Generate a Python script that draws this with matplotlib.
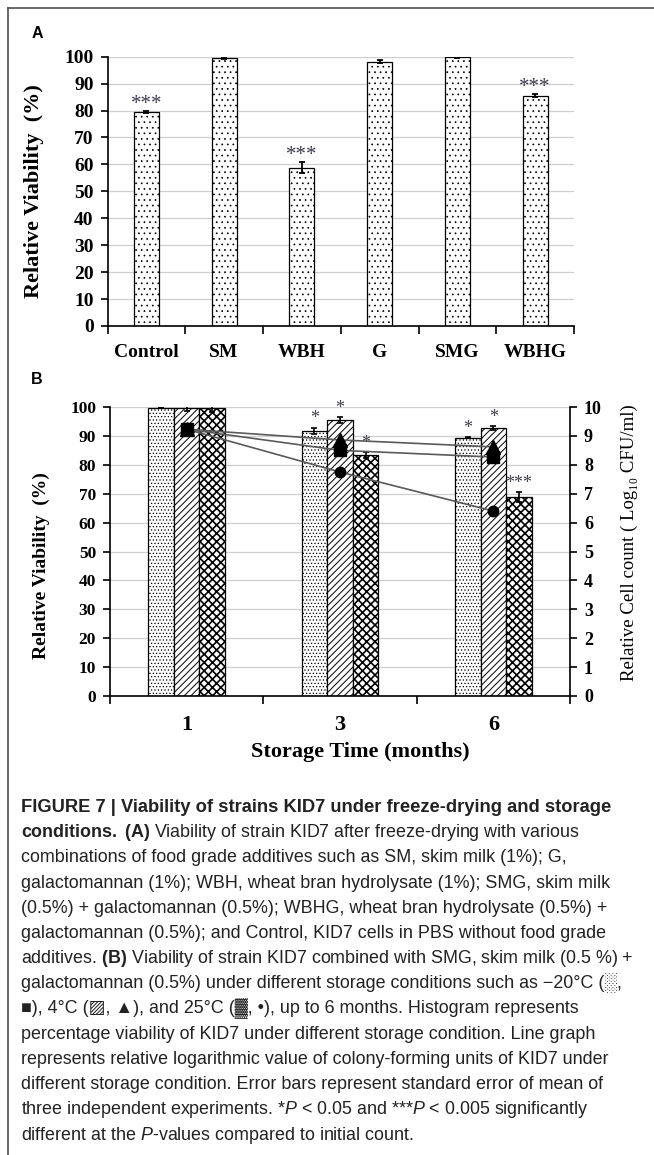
import numpy as np
import matplotlib
matplotlib.use('Agg')
import matplotlib.pyplot as plt
from matplotlib.lines import Line2D

CAP_FONT = 'Liberation Sans'
plt.rcParams['font.family'] = ['Liberation Serif', 'DejaVu Serif']
plt.rcParams['mathtext.fontset'] = 'custom'
plt.rcParams['mathtext.rm'] = CAP_FONT
plt.rcParams['mathtext.bf'] = CAP_FONT + ':bold'
plt.rcParams['mathtext.it'] = CAP_FONT + ':italic'

# panel A: viability after freeze-drying
cats_a = ['Control', 'SM', 'WBH', 'G', 'SMG', 'WBHG']
viab_a = [79.5, 99.5, 58.8, 98.2, 99.8, 85.5]
err_a = [0.3, 0.3, 2.0, 0.4, 0.2, 0.5]
sig_a = ['***', '', '***', '', '', '***']

# panel B: storage at -20, 4 and 25 C
months = ['1', '3', '6']
viab_b = {'m20': [99.8, 91.7, 89.4], 'c4': [99.8, 95.5, 92.7], 'c25': [99.8, 83.4, 69.0]}
err_b = {'m20': [0.1, 1.2, 0.2], 'c4': [1.2, 1.0, 0.8], 'c25': [1.5, 1.0, 1.7]}
sig_b = {'m20': ['', '*', '*'], 'c4': ['', '*', '*'], 'c25': ['', '*', '***']}
logcfu_b = {'m20': [9.23, 8.50, 8.27], 'c4': [9.23, 8.86, 8.62], 'c25': [9.23, 7.75, 6.40]}

W, H = 654, 1155
fig = plt.figure(figsize=(W / 100, H / 100), dpi=100)

def px_axes(l, t, r, b):
    return fig.add_axes([l / W, 1 - b / H, (r - l) / W, (b - t) / H])

STAR = '#3c3c4c'
GRID = '#cfcfcf'

def hatched_bars(ax, x, y, w, hatch, hlw):
    with plt.rc_context({'hatch.linewidth': hlw}):
        bars = ax.bar(x, y, width=w, color='white', edgecolor='black',
                      linewidth=0.9, hatch=hatch, zorder=2)
    for p in bars:
        if hasattr(p, 'set_hatch_linewidth'):
            p.set_hatch_linewidth(hlw)
    return bars

def style_axes(ax, ylabel, lab_size, tick_size, ylab_x, ylab_y):
    ax.spines['top'].set_visible(False)
    ax.spines['right'].set_visible(False)
    for s in ['left', 'bottom']:
        ax.spines[s].set_linewidth(1.2)
    ax.set_ylim(0, 100)
    ax.set_yticks(np.arange(0, 101, 10))
    ax.yaxis.grid(True, color=GRID, lw=0.9)
    ax.set_axisbelow(True)
    ax.tick_params(axis='y', direction='out', length=5, width=1.2, pad=5,
                   labelsize=tick_size)
    for t in ax.get_yticklabels():
        t.set_fontweight('bold')
    ax.set_ylabel(ylabel, fontsize=lab_size, fontweight='bold')
    ax.yaxis.set_label_coords(ylab_x, ylab_y)

# ---------------- panel A ----------------
axA = px_axes(107.5, 56.7, 574, 326)
xa = np.arange(len(cats_a))
hatched_bars(axA, xa, viab_a, 0.32, '...', 0.5)
axA.errorbar(xa, viab_a, yerr=err_a, fmt='none', ecolor='black',
             elinewidth=1.3, capsize=2.5, capthick=1.3, zorder=3)
for x, v, e, s in zip(xa, viab_a, err_a, sig_a):
    if s:
        axA.annotate(s, (x, v + e), xytext=(0, 1.5), textcoords='offset points',
                     ha='center', va='baseline', fontsize=15, color=STAR)
axA.set_xlim(-0.5, len(cats_a) - 0.5)
axA.set_xticks(xa)
axA.set_xticklabels(cats_a, fontsize=14, fontweight='bold')
axA.set_xticks(np.arange(-0.5, len(cats_a)), minor=True)
axA.tick_params(axis='x', which='major', length=0, pad=13)
axA.tick_params(axis='x', which='minor', direction='out', length=6, width=1.2)
style_axes(axA, 'Relative Viability  (%)', 16, 14, -0.136, 0.5)
fig.text(37 / W, 1 - 33 / H, 'A', family='Liberation Sans', fontweight='bold',
         fontsize=11.5, ha='center', va='center')

# ---------------- panel B ----------------
axB = px_axes(110, 407, 570, 696)
xb = np.arange(len(months))
bw = 1 / 6
hatches = {'m20': ('.....', 0.5), 'c4': ('/////', 0.7), 'c25': ('xxxx', 1.2)}
offs = {'m20': -bw, 'c4': 0.0, 'c25': bw}
for key in ['m20', 'c4', 'c25']:
    h, hlw = hatches[key]
    hatched_bars(axB, xb + offs[key], viab_b[key], bw, h, hlw)
    axB.errorbar(xb + offs[key], viab_b[key], yerr=err_b[key], fmt='none',
                 ecolor='black', elinewidth=1.2, capsize=2.5, capthick=1.2, zorder=3)
    for x, v, e, s in zip(xb + offs[key], viab_b[key], err_b[key], sig_b[key]):
        if s:
            axB.annotate(s, (x, v + e), xytext=(0, 3), textcoords='offset points',
                         ha='center', va='baseline', fontsize=13, color=STAR)
axB.set_xlim(-0.5, len(months) - 0.5)
axB.set_xticks(xb)
axB.set_xticklabels(months, fontsize=16, fontweight='bold')
axB.set_xticks(np.arange(-0.5, len(months)), minor=True)
axB.tick_params(axis='x', which='major', length=0, pad=14)
axB.tick_params(axis='x', which='minor', direction='out', length=6, width=1.2)
style_axes(axB, 'Relative Viability  (%)', 14, 12.5, -0.13, 0.45)
axB.set_xlabel('Storage Time (months)', fontsize=16, fontweight='bold')
axB.xaxis.set_label_coords(0.545, -0.16)

ax2 = axB.twinx()
ax2.set_ylim(0, 10)
ax2.set_yticks(np.arange(0, 11, 1))
for s in ['top', 'left', 'bottom']:
    ax2.spines[s].set_visible(False)
ax2.spines['right'].set_linewidth(1.2)
ax2.tick_params(axis='y', direction='out', length=5, width=1.2, pad=5, labelsize=13)
for t in ax2.get_yticklabels():
    t.set_fontweight('bold')
ax2.set_ylabel('Relative Cell count ( Log\u2081\u2080 CFU/ml)', fontsize=13.5,
               rotation=90)
ax2.yaxis.set_label_coords(1.11, 0.53)
markers = {'c25': ('o', 7.5), 'c4': ('^', 10.5), 'm20': ('s', 8.5)}
for key in ['c25', 'c4', 'm20']:
    m, ms = markers[key]
    ax2.plot(xb, logcfu_b[key], color='#5a5a5a', lw=1.2, marker=m, ms=ms,
             mfc='black', mec='black', zorder=4)
fig.text(37 / W, 1 - 380 / H, 'B', family='Liberation Sans', fontweight='bold',
         fontsize=11.5, ha='center', va='center')

# ---------------- frame ----------------
fig.add_artist(Line2D([7.5 / W, 7.5 / W], [0, 1 - 8 / H], color='#505050', lw=1.2))
fig.add_artist(Line2D([7.5 / W, 1], [1 - 8 / H, 1 - 8 / H], color='#505050', lw=1.2))

# ---------------- caption ----------------
cap_lines = [
    'FIGURE 7 | Viability of strains KID7 under freeze-drying and storage',
    r'$\mathbf{conditions.}$ $\mathbf{(A)}$ Viability of strain KID7 after freeze-drying with various',
    'combinations of food grade additives such as SM, skim milk (1%); G,',
    'galactomannan (1%); WBH, wheat bran hydrolysate (1%); SMG, skim milk',
    '(0.5%) + galactomannan (0.5%); WBHG, wheat bran hydrolysate (0.5%) +',
    'galactomannan (0.5%); and Control, KID7 cells in PBS without food grade',
    r'additives. $\mathbf{(B)}$ Viability of strain KID7 combined with SMG, skim milk (0.5 %) +',
    'galactomannan (0.5%) under different storage conditions such as \u221220\u00b0C (\u2591,',
    '\u25a0), 4\u00b0C (\u25a8, \u25b2), and 25\u00b0C (\u2593, \u2022), up to 6 months. Histogram represents',
    'percentage viability of KID7 under different storage condition. Line graph',
    'represents relative logarithmic value of colony-forming units of KID7 under',
    'different storage condition. Error bars represent standard error of mean of',
    r'three independent experiments. *$\mathit{P}$ < 0.05 and ***$\mathit{P}$ < 0.005 significantly',
    r'different at the $\mathit{P}$-values compared to initial count.',
]
for i, line in enumerate(cap_lines):
    fig.text(21 / W, 1 - (812 + 25.2 * i) / H, line,
             family=[CAP_FONT, 'DejaVu Sans'], fontsize=13.2 if i == 0 else 12.9,
             fontweight='bold' if i == 0 else 'normal',
             ha='left', va='baseline', color='#222222')

fig.savefig('out.png', dpi=100)
